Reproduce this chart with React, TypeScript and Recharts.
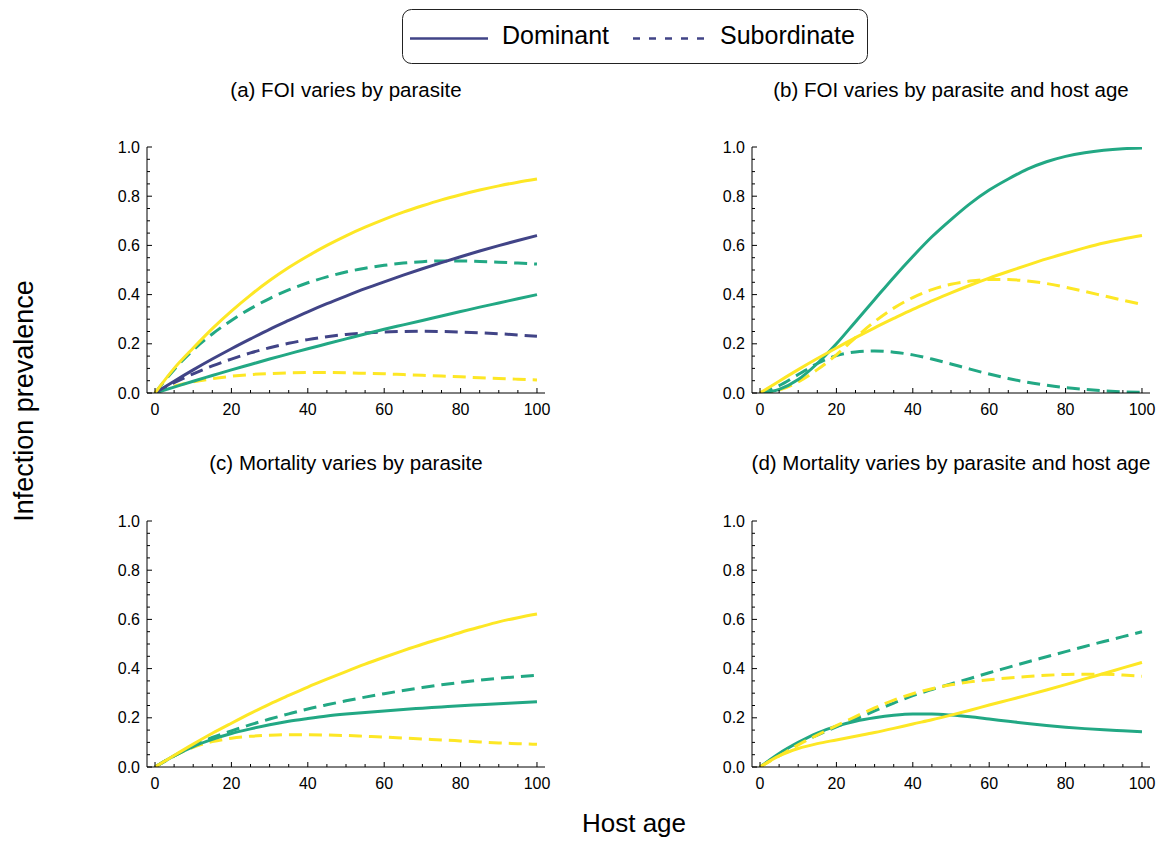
import React from 'react';
import { LineChart, Line, XAxis, YAxis } from 'recharts';

const NAVY = '#414487';
const GREEN = '#22A884';
const YELLOW = '#FDE725';
const FONT = '"Liberation Sans", Arial, Helvetica, sans-serif';

// Host age samples
const ages = [0, 5, 10, 15, 20, 25, 30, 35, 40, 45, 50, 55, 60, 65, 70, 75, 80, 85, 90, 95, 100];
const xTicks = [0, 5, 10, 15, 20, 25, 30, 35, 40, 45, 50, 55, 60, 65, 70, 75, 80, 85, 90, 95, 100];
const yTicks = [0, 0.05, 0.1, 0.15, 0.2, 0.25, 0.3, 0.35, 0.4, 0.45, 0.5, 0.55, 0.6, 0.65, 0.7, 0.75, 0.8, 0.85, 0.9, 0.95, 1];

// (a) FOI varies by parasite
const aYellowDom = [0, 0.1, 0.183, 0.262, 0.333, 0.398, 0.457, 0.51, 0.557, 0.6, 0.639, 0.674, 0.706, 0.735, 0.761, 0.785, 0.806, 0.825, 0.842, 0.857, 0.87];
const aNavyDom = [0, 0.048, 0.094, 0.138, 0.18, 0.22, 0.259, 0.295, 0.33, 0.363, 0.394, 0.424, 0.452, 0.479, 0.505, 0.53, 0.554, 0.577, 0.599, 0.62, 0.64];
const aGreenDom = [0, 0.024, 0.048, 0.071, 0.094, 0.116, 0.138, 0.159, 0.18, 0.2, 0.22, 0.24, 0.259, 0.277, 0.295, 0.313, 0.331, 0.349, 0.366, 0.383, 0.4];
const aGreenSub = [0, 0.095, 0.175, 0.24, 0.295, 0.343, 0.384, 0.419, 0.448, 0.472, 0.492, 0.507, 0.519, 0.528, 0.534, 0.537, 0.537, 0.535, 0.532, 0.528, 0.524];
const aNavySub = [0, 0.042, 0.078, 0.11, 0.138, 0.163, 0.184, 0.202, 0.217, 0.229, 0.238, 0.244, 0.248, 0.25, 0.251, 0.25, 0.248, 0.245, 0.241, 0.236, 0.231];
const aYellowSub = [0, 0.028, 0.045, 0.058, 0.068, 0.075, 0.079, 0.082, 0.083, 0.083, 0.082, 0.08, 0.078, 0.075, 0.072, 0.069, 0.066, 0.062, 0.059, 0.056, 0.053];

// (b) FOI varies by parasite and host age
const bGreenDom = [0, 0.015, 0.055, 0.12, 0.2, 0.29, 0.38, 0.47, 0.555, 0.635, 0.705, 0.77, 0.825, 0.87, 0.91, 0.94, 0.962, 0.977, 0.987, 0.993, 0.996];
const bYellowDom = [0, 0.048, 0.095, 0.14, 0.183, 0.225, 0.265, 0.303, 0.34, 0.374, 0.407, 0.438, 0.467, 0.494, 0.52, 0.545, 0.568, 0.59, 0.61, 0.626, 0.64];
const bGreenSub = [0, 0.03, 0.075, 0.12, 0.152, 0.167, 0.171, 0.166, 0.155, 0.138, 0.118, 0.097, 0.077, 0.059, 0.044, 0.032, 0.022, 0.015, 0.009, 0.005, 0.003];
const bYellowSub = [0, 0.012, 0.045, 0.095, 0.155, 0.225, 0.29, 0.345, 0.388, 0.42, 0.442, 0.455, 0.461, 0.461, 0.455, 0.445, 0.43, 0.413, 0.395, 0.377, 0.36];

// (c) Mortality varies by parasite
const cYellowDom = [0, 0.047, 0.093, 0.137, 0.178, 0.218, 0.256, 0.291, 0.325, 0.357, 0.388, 0.418, 0.446, 0.473, 0.499, 0.523, 0.547, 0.569, 0.59, 0.607, 0.622];
const cGreenDom = [0, 0.045, 0.083, 0.112, 0.136, 0.155, 0.172, 0.186, 0.197, 0.207, 0.215, 0.222, 0.228, 0.234, 0.239, 0.244, 0.249, 0.253, 0.257, 0.261, 0.265];
const cGreenSub = [0, 0.045, 0.087, 0.12, 0.147, 0.172, 0.195, 0.216, 0.236, 0.253, 0.269, 0.284, 0.298, 0.311, 0.323, 0.334, 0.344, 0.353, 0.361, 0.367, 0.373];
const cYellowSub = [0, 0.045, 0.08, 0.103, 0.117, 0.125, 0.129, 0.131, 0.131, 0.13, 0.128, 0.125, 0.122, 0.118, 0.114, 0.11, 0.106, 0.102, 0.098, 0.095, 0.092];

// (d) Mortality varies by parasite and host age
const dGreenDom = [0, 0.055, 0.1, 0.138, 0.166, 0.186, 0.2, 0.21, 0.215, 0.215, 0.211, 0.204, 0.195, 0.186, 0.177, 0.169, 0.162, 0.156, 0.151, 0.147, 0.143];
const dYellowDom = [0, 0.045, 0.075, 0.095, 0.11, 0.125, 0.14, 0.157, 0.175, 0.192, 0.211, 0.231, 0.252, 0.272, 0.292, 0.313, 0.335, 0.358, 0.38, 0.403, 0.425];
const dGreenSub = [0, 0.05, 0.095, 0.13, 0.163, 0.195, 0.228, 0.26, 0.29, 0.315, 0.338, 0.36, 0.383, 0.405, 0.427, 0.448, 0.469, 0.49, 0.51, 0.53, 0.55];
const dYellowSub = [0, 0.045, 0.09, 0.13, 0.168, 0.205, 0.24, 0.272, 0.298, 0.318, 0.334, 0.346, 0.355, 0.362, 0.368, 0.373, 0.376, 0.377, 0.377, 0.374, 0.369];

type Series = { key: string; values: number[]; color: string; dashed: boolean };

const buildRows = (series: Series[]) =>
  ages.map((age, i) => {
    const row: Record<string, number> = { age };
    series.forEach((s) => {
      row[s.key] = s.values[i];
    });
    return row;
  });

const panelA: Series[] = [
  { key: 'yd', values: aYellowSub, color: YELLOW, dashed: true },
  { key: 'ns', values: aNavySub, color: NAVY, dashed: true },
  { key: 'gd', values: aGreenDom, color: GREEN, dashed: false },
  { key: 'gs', values: aGreenSub, color: GREEN, dashed: true },
  { key: 'nd', values: aNavyDom, color: NAVY, dashed: false },
  { key: 'yD', values: aYellowDom, color: YELLOW, dashed: false },
];
const panelB: Series[] = [
  { key: 'gs', values: bGreenSub, color: GREEN, dashed: true },
  { key: 'ys', values: bYellowSub, color: YELLOW, dashed: true },
  { key: 'gd', values: bGreenDom, color: GREEN, dashed: false },
  { key: 'yd', values: bYellowDom, color: YELLOW, dashed: false },
];
const panelC: Series[] = [
  { key: 'ys', values: cYellowSub, color: YELLOW, dashed: true },
  { key: 'gd', values: cGreenDom, color: GREEN, dashed: false },
  { key: 'gs', values: cGreenSub, color: GREEN, dashed: true },
  { key: 'yd', values: cYellowDom, color: YELLOW, dashed: false },
];
const panelD: Series[] = [
  { key: 'gd', values: dGreenDom, color: GREEN, dashed: false },
  { key: 'gs', values: dGreenSub, color: GREEN, dashed: true },
  { key: 'ys', values: dYellowSub, color: YELLOW, dashed: true },
  { key: 'yd', values: dYellowDom, color: YELLOW, dashed: false },
];

const XTick = (props: any) => {
  const { x, y, payload } = props;
  const v = payload.value as number;
  const major = Math.round(v) % 20 === 0;
  return (
    <g>
      <line x1={x} x2={x} y1={y} y2={y - (major ? 5 : 3)} stroke="#000" strokeWidth={1} />
      {major && (
        <text x={x} y={y + 22} textAnchor="middle" fontSize={16} fontFamily={FONT} fill="#000">
          {v}
        </text>
      )}
    </g>
  );
};

const YTick = (props: any) => {
  const { x, y, payload } = props;
  const v = payload.value as number;
  const major = Math.round(v * 100) % 20 === 0;
  return (
    <g>
      <line x1={x} x2={x + (major ? 5 : 3)} y1={y} y2={y} stroke="#000" strokeWidth={1} />
      {major && (
        <text x={x - 7} y={y + 5.5} textAnchor="end" fontSize={16} fontFamily={FONT} fill="#000">
          {v.toFixed(1)}
        </text>
      )}
    </g>
  );
};

const Panel = ({ left, top, series }: { left: number; top: number; series: Series[] }) => {
  const rows = buildRows(series);
  return (
    <div style={{ position: 'absolute', left, top }}>
      <LineChart width={455} height={290} data={rows} margin={{ top: 10, right: 10, left: 7, bottom: 0 }}>
        <XAxis
          dataKey="age"
          type="number"
          domain={[-2.1, 102.1]}
          ticks={xTicks}
          interval={0}
          tick={<XTick />}
          tickLine={false}
          tickSize={0}
          tickMargin={0}
          height={34}
          axisLine={{ stroke: '#000', strokeWidth: 1 }}
          allowDataOverflow
        />
        <YAxis
          type="number"
          domain={[0, 1]}
          ticks={yTicks}
          interval={0}
          tick={<YTick />}
          tickLine={false}
          tickSize={0}
          tickMargin={0}
          width={40}
          axisLine={{ stroke: '#000', strokeWidth: 1 }}
          allowDataOverflow
        />
        {series.map((s) => (
          <Line
            key={s.key}
            dataKey={s.key}
            type="monotone"
            stroke={s.color}
            strokeWidth={3}
            strokeDasharray={s.dashed ? '13 7' : undefined}
            dot={false}
            activeDot={false}
            isAnimationActive={false}
          />
        ))}
      </LineChart>
    </div>
  );
};

const titles = [
  { text: '(a) FOI varies by parasite', x: 346, y: 97 },
  { text: '(b) FOI varies by parasite and host age', x: 951, y: 97 },
  { text: '(c) Mortality varies by parasite', x: 346, y: 470 },
  { text: '(d) Mortality varies by parasite and host age', x: 951, y: 470 },
];

export default function App() {
  return (
    <div
      style={{
        position: 'absolute',
        left: 0,
        top: 0,
        width: 1162,
        height: 842,
        background: '#fff',
        overflow: 'hidden',
      }}
    >
      <Panel left={100} top={137} series={panelA} />
      <Panel left={705} top={137} series={panelB} />
      <Panel left={100} top={511} series={panelC} />
      <Panel left={705} top={511} series={panelD} />
      <svg
        width={1162}
        height={842}
        style={{ position: 'absolute', left: 0, top: 0, pointerEvents: 'none' }}
      >
        <rect x={402.5} y={9.5} width={465} height={54} rx={9} ry={9} fill="none" stroke="#222" strokeWidth={1} />
        <line x1={410} x2={488} y1={38.5} y2={38.5} stroke={NAVY} strokeWidth={2.5} />
        <text x={502} y={44} fontSize={25} fontFamily={FONT} fill="#000">
          Dominant
        </text>
        <line x1={633} x2={706} y1={38.5} y2={38.5} stroke={NAVY} strokeWidth={2.5} strokeDasharray="7 9" />
        <text x={720} y={44} fontSize={25} fontFamily={FONT} fill="#000">
          Subordinate
        </text>
        {titles.map((t) => (
          <text key={t.text} x={t.x} y={t.y} textAnchor="middle" fontSize={20.5} fontFamily={FONT} fill="#000">
            {t.text}
          </text>
        ))}
        <text
          x={33}
          y={401}
          transform="rotate(-90 33 401)"
          textAnchor="middle"
          fontSize={27}
          fontFamily={FONT}
          fill="#000"
        >
          Infection prevalence
        </text>
        <text x={634} y={832} textAnchor="middle" fontSize={26} fontFamily={FONT} fill="#000">
          Host age
        </text>
      </svg>
    </div>
  );
}
